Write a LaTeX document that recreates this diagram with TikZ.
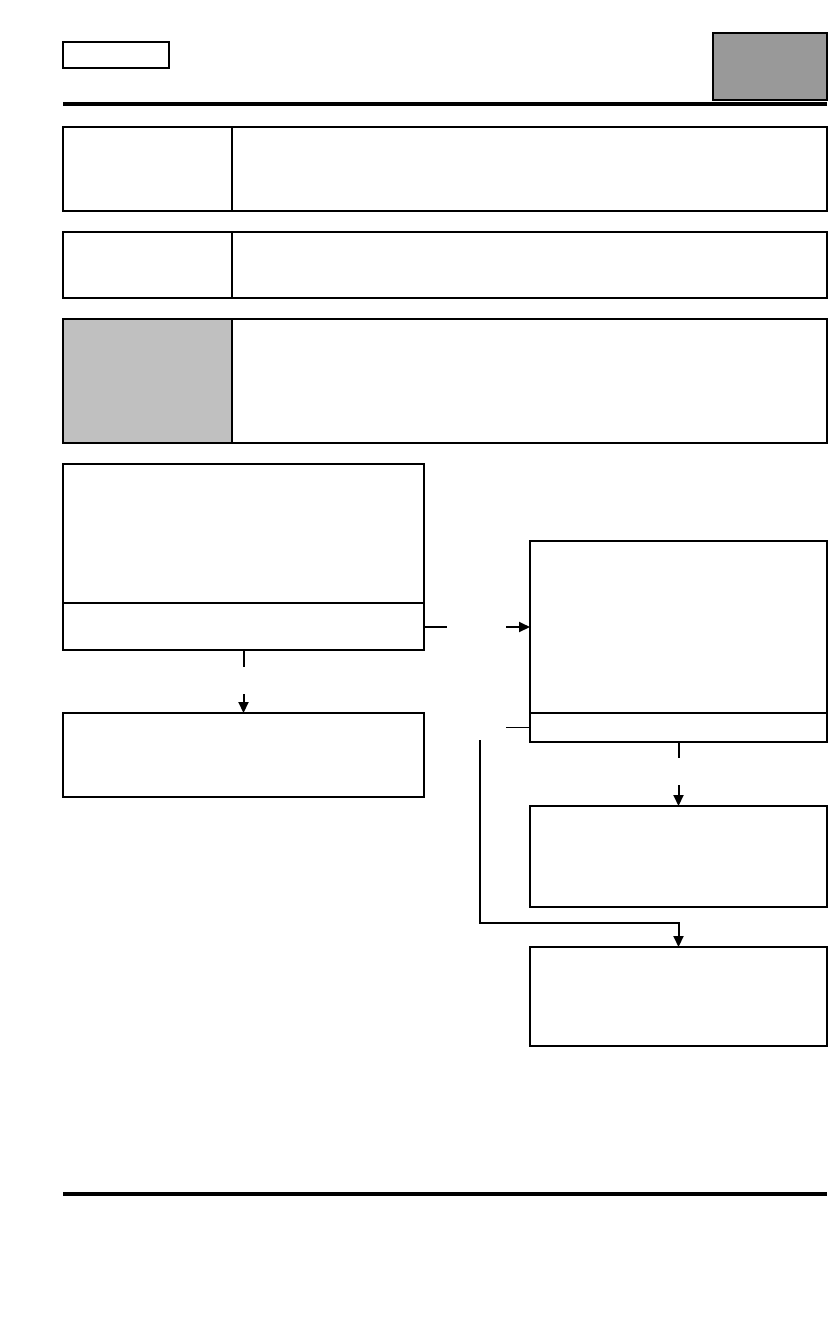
\documentclass[tikz,border=0pt]{standalone}
\usetikzlibrary{arrows.meta,positioning,calc}

\definecolor{badgegray}{RGB}{153,153,153}
\definecolor{keygray}{RGB}{192,192,192}

\tikzset{
  panel/.style={draw, rectangle, line width=1.6pt, inner sep=0pt, outer sep=0pt},
  rulebar/.style={line width=3.5pt},
  link/.style={line width=2pt},
  tip/.style={link, -{Triangle[length=11pt,width=10pt]}},
}

\begin{document}
\begin{tikzpicture}[x=1pt,y=-1pt]
\useasboundingbox (0,0) rectangle (840,1320);

% header
\node[panel, line width=1.1pt, minimum width=106pt, minimum height=26pt] (tag) at (116,55) {};
\node[panel, fill=badgegray, line width=2.2pt, minimum width=114pt, minimum height=67pt] (badge) at (770,66.5) {};
\draw[rulebar] (63,104) -- (827,104);

% rows
\node[panel, minimum width=169pt, minimum height=84pt, anchor=north west] (keyA) at (63,127) {};
\node[panel, minimum width=595pt, minimum height=84pt, right=0pt of keyA] (valA) {};

\node[panel, minimum width=169pt, minimum height=66pt, anchor=north west] (keyB) at (63,232) {};
\node[panel, minimum width=595pt, minimum height=66pt, right=0pt of keyB] (valB) {};

\node[panel, fill=keygray, minimum width=169pt, minimum height=124pt, anchor=north west] (keyC) at (63,319) {};
\node[panel, minimum width=595pt, minimum height=124pt, right=0pt of keyC] (valC) {};

% flow boxes
\node[panel, minimum width=361pt, minimum height=139pt, anchor=north west] (aHead) at (63,464) {};
\node[panel, line width=1.2pt, minimum width=361pt, minimum height=47pt, below=0pt of aHead] (aFoot) {};
\draw[line width=1.6pt] (aHead.north west) rectangle (aFoot.south east);
\node[panel, minimum width=361pt, minimum height=84pt, anchor=north west] (bBox) at (63,713) {};

\node[panel, minimum width=297pt, minimum height=172pt, anchor=north west] (cHead) at (530,541) {};
\node[panel, line width=1.2pt, minimum width=297pt, minimum height=29pt, below=0pt of cHead] (cFoot) {};
\draw[line width=1.6pt] (cHead.north west) rectangle (cFoot.south east);
\node[panel, minimum width=297pt, minimum height=101pt, anchor=north west] (dBox) at (530,806) {};
\node[panel, minimum width=297pt, minimum height=99pt, anchor=north west] (eBox) at (530,947) {};

% connectors
\coordinate (acIn) at ($(cHead.west)+(-24,0)$);
\draw[link] (aFoot.east) -- ++(23,0);
\draw[tip] (acIn) -- (cHead.west);

\coordinate (abIn) at ($(bBox.north)+(0,-19)$);
\draw[link] (aFoot.south) -- ++(0,17);
\draw[tip] (abIn) -- (bBox.north);

\coordinate (cdIn) at ($(dBox.north)+(0,-21)$);
\draw[link] (cFoot.south) -- ++(0,16);
\draw[tip] (cdIn) -- (dBox.north);

\coordinate (ceLeg) at (480,740);
\draw[line width=1.2pt] (cFoot.west) -- ++(-24,0);
\draw[tip] (ceLeg) |- ($(eBox.north)+(0,-24)$) -- (eBox.north);

% footer
\draw[rulebar] (63,1194) -- (827,1194);

\end{tikzpicture}
\end{document}
